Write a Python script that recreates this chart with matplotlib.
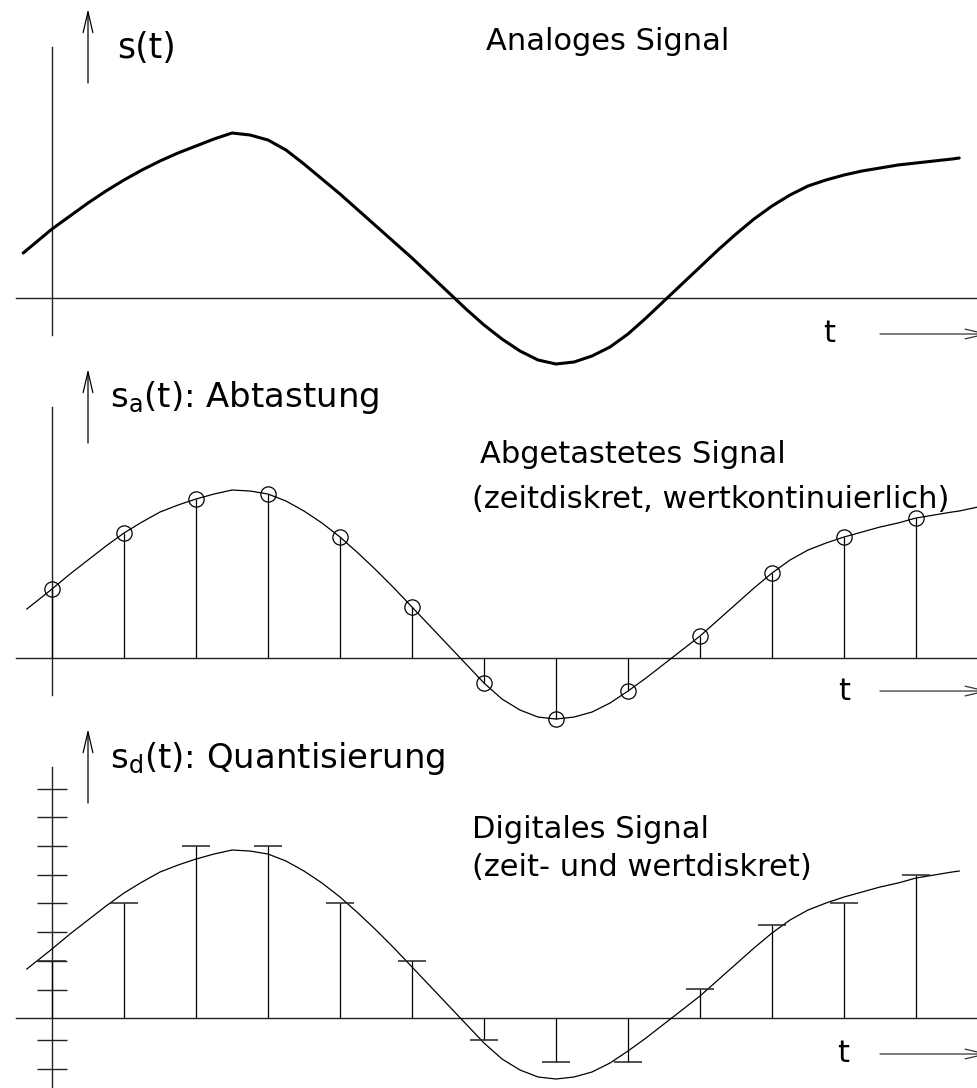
import numpy as np
import matplotlib
matplotlib.use("Agg")
import matplotlib.pyplot as plt

plt.rcParams['font.family'] = ['DejaVu Sans']
plt.rcParams['mathtext.default'] = 'regular'

# sample instants (in sampling periods)
t_samples = np.arange(13)

# analog signal (t in sampling periods)
t_analog = [-0.4, 0, 0.25, 0.5, 0.75, 1, 1.25, 1.5, 1.75, 2, 2.25, 2.5, 2.75,
            3, 3.25, 3.5, 3.75, 4, 4.25, 4.5, 4.75, 5, 5.25, 5.5, 5.75,
            6, 6.25, 6.5, 6.75, 7, 7.25, 7.5, 7.75, 8, 8.25, 8.5, 8.75,
            9, 9.25, 9.5, 9.75, 10, 10.25, 10.5, 10.75, 11, 11.25, 11.5, 11.75,
            12, 12.25, 12.5, 12.6]
s_analog = [45, 69, 82, 95, 107, 118, 128, 137, 145, 152, 159, 165, 163,
            158, 148, 134, 119, 104, 88, 72, 56, 40, 23, 6, -11,
            -27, -41, -53, -62, -66, -64, -58, -49, -36, -20, -3, 14,
            31, 48, 64, 79, 92, 103, 112, 118, 123, 127, 130, 133,
            135, 137, 139, 140]

# thin reference curve drawn in the lower panels
t_curve = [-0.35, 0, 0.25, 0.5, 0.75, 1, 1.25, 1.5, 1.75, 2, 2.25, 2.5, 2.75,
           3, 3.25, 3.5, 3.75, 4, 4.25, 4.5, 4.75, 5, 5.25, 5.5, 5.75,
           6, 6.25, 6.5, 6.75, 7, 7.25, 7.5, 7.75, 8, 8.25, 8.5, 8.75,
           9, 9.25, 9.5, 9.75, 10, 10.25, 10.5, 10.75, 11, 11.25, 11.5, 11.75,
           12, 12.25, 12.5, 12.6, 12.86]
s_curve = [49, 69, 84, 98, 112, 125, 136, 146, 153, 159, 164, 168, 167,
           164, 157, 147, 135, 121, 105, 88, 70, 51, 32, 13, -6,
           -25, -41, -52, -59, -61, -59, -54, -45, -33, -20, -6, 8,
           22, 38, 54, 70, 85, 98, 108, 115, 121, 126, 131, 135,
           140, 143, 146, 147, 151]

# sampled values (zeitdiskret, wertkontinuierlich)
s_sampled = [69, 125, 159, 164, 121, 51, -25, -61, -33, 22, 85, 121, 140]

# quantised values (zeit- und wertdiskret)
s_quant = [57, 115, 172, 172, 115, 57, -22, -44, -44, 29, 93, 115, 143]
q_levels = [-51, -22, 28, 57, 86, 115, 143, 172, 201, 229]

fig = plt.figure(figsize=(9.78, 10.88), dpi=100)
xlim = (-0.7222, 12.861)
# panel boxes: [left, bottom, width, height], ylim
panels = [([0, 0.6829, 1, 0.3171], (-47, 298)),
          ([0, 0.3336, 1, 0.3493], (-67, 313)),
          ([0, 0.0, 1, 0.3336], (-70, 293))]
axes = []
for box, yl in panels:
    ax = fig.add_axes(box)
    ax.set_xlim(xlim)
    ax.set_ylim(yl)
    ax.axis('off')
    axes.append(ax)

axc = '#222222'
fs_big = 22
fs_lab = 24.5


def draw_axes(ax, ybot, ytop):
    ax.plot([-0.5, 13.5], [0, 0], color=axc, lw=1.0, clip_on=False)
    ax.plot([0, 0], [ybot, ytop], color=axc, lw=1.0, clip_on=False)
    # up arrow next to the label
    ax.annotate('', xy=(0.5, 289), xytext=(0.5, 215), annotation_clip=False,
                arrowprops=dict(arrowstyle='->,head_length=1.5,head_width=0.35',
                                color='black', lw=0.9, shrinkA=0, shrinkB=0))


def time_arrow(ax, x_t, s_t, s_arrow):
    ax.text(x_t, s_t, 't', fontsize=fs_big, ha='left', va='baseline')
    ax.annotate('', xy=(13.01, s_arrow), xytext=(11.5, s_arrow), annotation_clip=False,
                arrowprops=dict(arrowstyle='->,head_length=1.5,head_width=0.35',
                                color='#333333', lw=0.9, shrinkA=0, shrinkB=0))


# --- analog signal
ax = axes[0]
draw_axes(ax, -37, 251)
ax.plot(t_analog, s_analog, color='black', lw=2.2, solid_capstyle='round',
        solid_joinstyle='round', clip_on=False)
ax.text(0.903, 240, 's(t)', fontsize=25, ha='left', va='baseline')
ax.text(6.03, 248, 'Analoges Signal', fontsize=fs_big, ha='left', va='baseline')
time_arrow(ax, 10.71, -44, -36)

# --- sampled signal
ax = axes[1]
draw_axes(ax, -37, 251)
ax.plot(t_curve, s_curve, color='black', lw=0.9, clip_on=False)
ax.vlines(t_samples, 0, s_sampled, color='black', lw=0.9, clip_on=False)
ax.plot(t_samples, s_sampled, 'o', ms=11, mfc='none', mec='black', mew=0.9,
        clip_on=False)
ax.text(0.806, 251, 's$_a$(t): Abtastung', fontsize=fs_lab, ha='left', va='baseline')
ax.text(5.94, 195, 'Abgetastetes Signal', fontsize=fs_big, ha='left', va='baseline')
ax.text(5.83, 150, '(zeitdiskret, wertkontinuierlich)', fontsize=fs_big,
        ha='left', va='baseline')
time_arrow(ax, 10.92, -42, -33)

# --- quantised signal
ax = axes[2]
draw_axes(ax, -75, 251)
ax.hlines(q_levels, -0.208, 0.208, color=axc, lw=1.0)
ax.plot(t_curve[:-1], s_curve[:-1], color='black', lw=0.9, clip_on=False)
ax.vlines(t_samples, 0, s_quant, color='black', lw=0.9)
ax.hlines(s_quant, t_samples - 0.194, t_samples + 0.194, color='#222222', lw=1.1)
ax.text(0.806, 250, 's$_d$(t): Quantisierung', fontsize=fs_lab, ha='left', va='baseline')
ax.text(5.83, 180, 'Digitales Signal', fontsize=fs_big, ha='left', va='baseline')
ax.text(5.83, 142, '(zeit- und wertdiskret)', fontsize=fs_big, ha='left', va='baseline')
time_arrow(ax, 10.9, -44, -36)

fig.savefig('out.png', dpi=100)
